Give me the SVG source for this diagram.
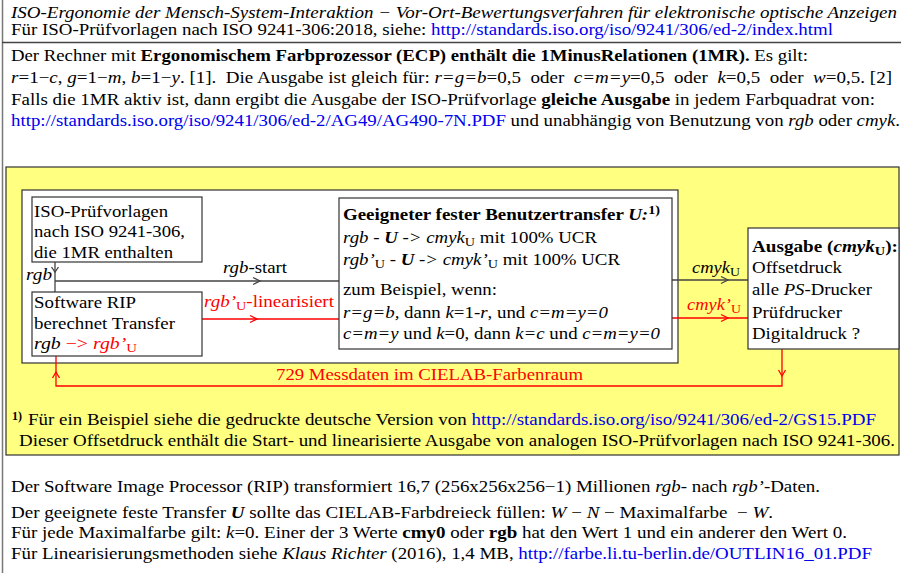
<svg xmlns="http://www.w3.org/2000/svg" width="901" height="573" viewBox="0 0 901 573">
<style>
text{font-family:"Liberation Serif","Times New Roman",serif;font-size:16px;fill:#000}
.i{font-style:italic}
.b{font-weight:bold}
.bl{fill:#0000ee}
.r{fill:#ff0000}
.sub{font-size:12px}
.box{fill:#fff;stroke:#333;stroke-width:1.2}
.ln{fill:none;stroke:#444;stroke-width:1.3}
.lr{fill:none;stroke:#ff0000;stroke-width:1.3}
</style>
<rect x="0" y="0" width="901" height="573" fill="#fff"/>
<g id="frame">
<line x1="2.5" y1="0" x2="2.5" y2="573" stroke="#777" stroke-width="1.5"/>
<line x1="2" y1="42.5" x2="901" y2="42.5" stroke="#444" stroke-width="1.3"/>
</g>
<g id="header">
<text x="11" y="18" class="i" textLength="886" lengthAdjust="spacingAndGlyphs">ISO-Ergonomie der Mensch-System-Interaktion − Vor-Ort-Bewertungsverfahren für elektronische optische Anzeigen</text>
<text x="11" y="35" textLength="822" lengthAdjust="spacingAndGlyphs">Für ISO-Prüfvorlagen nach ISO 9241-306:2018, siehe: <tspan class="bl">http://standards.iso.org/iso/9241/306/ed-2/index.html</tspan></text>
<text x="11" y="61" textLength="797" lengthAdjust="spacingAndGlyphs">Der Rechner mit <tspan class="b">Ergonomischem Farbprozessor (ECP) enthält die 1MinusRelationen (1MR).</tspan> Es gilt:</text>
<text x="11" y="83" xml:space="preserve" textLength="881" lengthAdjust="spacingAndGlyphs"><tspan class="i">r</tspan>=1−<tspan class="i">c</tspan>, <tspan class="i">g</tspan>=1−<tspan class="i">m</tspan>, <tspan class="i">b</tspan>=1−<tspan class="i">y</tspan>. [1].  Die Ausgabe ist gleich für: <tspan class="i">r=g=b</tspan>=0,5  oder  <tspan class="i">c=m=y</tspan>=0,5  oder  <tspan class="i">k</tspan>=0,5  oder  <tspan class="i">w</tspan>=0,5. [2]</text>
<text x="11" y="105" textLength="864" lengthAdjust="spacingAndGlyphs">Falls die 1MR aktiv ist, dann ergibt die Ausgabe der ISO-Prüfvorlage <tspan class="b">gleiche Ausgabe</tspan> in jedem Farbquadrat von:</text>
<text x="11" y="126" textLength="889" lengthAdjust="spacingAndGlyphs"><tspan class="bl">http://standards.iso.org/iso/9241/306/ed-2/AG49/AG490-7N.PDF</tspan> und unabhängig von Benutzung von <tspan class="i">rgb</tspan> oder <tspan class="i">cmyk</tspan>.</text>
</g>
<rect id="panel" x="6" y="167" width="893" height="288" fill="#ffff80" stroke="#333" stroke-width="1.2"/>
<rect id="inner" x="22" y="190" width="656" height="173" class="box"/>
<g id="connectors">
<path class="ln" d="M55,262 V292 M55,281 H339 M672,280 H748"/>
<path class="ln" d="M51.5,267 L55,272 L58.5,267 M253,277.5 L260,281 L253,284.5 M721,276.5 L728,280 L721,283.5"/>
<path class="lr" d="M202,319 H339 M672,318 H748 M782,349 V386 H56 V356"/>
<path class="lr" d="M250,315.5 L257,319 L250,322.5 M721,314.5 L728,318 L721,321.5 M778.5,370 L782,376 L785.5,370 M52.5,378 L56,372 L59.5,378"/>
<text x="26" y="280" class="i" textLength="26" lengthAdjust="spacingAndGlyphs">rgb</text>
<text x="223" y="273" textLength="64" lengthAdjust="spacingAndGlyphs"><tspan class="i">rgb</tspan>-start</text>
<text x="204" y="307" class="r" textLength="130" lengthAdjust="spacingAndGlyphs"><tspan class="i">rgb’</tspan><tspan class="sub" dy="3">U</tspan><tspan dy="-3">-linearisiert</tspan></text>
<text x="692" y="273" textLength="48" lengthAdjust="spacingAndGlyphs"><tspan class="i">cmyk</tspan><tspan class="sub" dy="3">U</tspan></text>
<text x="687" y="310" class="r" textLength="54" lengthAdjust="spacingAndGlyphs"><tspan class="i">cmyk’</tspan><tspan class="sub" dy="3">U</tspan></text>
<text x="276" y="380" class="r" textLength="307" lengthAdjust="spacingAndGlyphs">729 Messdaten im CIELAB-Farbenraum</text>
</g>
<g id="iso">
<rect x="32" y="197" width="170" height="65" class="box"/>
<text x="34" y="217" textLength="134" lengthAdjust="spacingAndGlyphs">ISO-Prüfvorlagen</text>
<text x="34" y="237" textLength="151" lengthAdjust="spacingAndGlyphs">nach ISO 9241-306,</text>
<text x="34" y="258" textLength="139" lengthAdjust="spacingAndGlyphs">die 1MR enthalten</text>
</g>
<g id="rip">
<rect x="32" y="292" width="170" height="64" class="box"/>
<text x="34" y="308" textLength="102" lengthAdjust="spacingAndGlyphs">Software RIP</text>
<text x="34" y="329" textLength="141" lengthAdjust="spacingAndGlyphs">berechnet Transfer</text>
<text x="34" y="349" textLength="103" lengthAdjust="spacingAndGlyphs"><tspan class="i">rgb</tspan> <tspan class="r">−&gt; </tspan><tspan class="r i">rgb’</tspan><tspan class="r sub" dy="3">U</tspan></text>
</g>
<g id="transfer">
<rect x="339" y="198" width="333" height="151" class="box"/>
<text x="343" y="220" class="b" textLength="317" lengthAdjust="spacingAndGlyphs">Geeigneter fester Benutzertransfer <tspan class="i">U:</tspan><tspan class="sub" dy="-6">1)</tspan></text>
<text x="343" y="243" textLength="254" lengthAdjust="spacingAndGlyphs"><tspan class="i">rgb</tspan> - <tspan class="b i">U</tspan><tspan class="i"> -&gt; cmyk</tspan><tspan class="sub" dy="3">U</tspan><tspan dy="-3"> mit 100% UCR</tspan></text>
<text x="343" y="265" textLength="277" lengthAdjust="spacingAndGlyphs"><tspan class="i">rgb’</tspan><tspan class="sub" dy="3">U</tspan><tspan dy="-3"> - </tspan><tspan class="b i">U</tspan><tspan class="i"> -&gt; cmyk’</tspan><tspan class="sub" dy="3">U</tspan><tspan dy="-3"> mit 100% UCR</tspan></text>
<text x="343" y="295" textLength="154" lengthAdjust="spacingAndGlyphs">zum Beispiel, wenn:</text>
<text x="343" y="318" textLength="265" lengthAdjust="spacingAndGlyphs"><tspan class="i">r=g=b,</tspan> dann <tspan class="i">k</tspan>=1-<tspan class="i">r</tspan>, und <tspan class="i">c=m=y=0</tspan></text>
<text x="343" y="339" textLength="317" lengthAdjust="spacingAndGlyphs"><tspan class="i">c=m=y</tspan> und <tspan class="i">k</tspan>=0, dann <tspan class="i">k=c</tspan> und <tspan class="i">c=m=y=0</tspan></text>
</g>
<g id="ausgabe">
<rect x="748" y="228" width="151" height="121" class="box"/>
<text x="752" y="252" class="b" textLength="146" lengthAdjust="spacingAndGlyphs">Ausgabe (<tspan class="i">cmyk</tspan><tspan class="sub" dy="3">U</tspan><tspan dy="-3">):</tspan></text>
<text x="752" y="273" textLength="90" lengthAdjust="spacingAndGlyphs">Offsetdruck</text>
<text x="752" y="295" textLength="120" lengthAdjust="spacingAndGlyphs">alle <tspan class="i">PS</tspan>-Drucker</text>
<text x="752" y="318" textLength="90" lengthAdjust="spacingAndGlyphs">Prüfdrucker</text>
<text x="752" y="339" textLength="108" lengthAdjust="spacingAndGlyphs">Digitaldruck ?</text>
</g>
<g id="footnote">
<text x="12" y="420" class="b sub">1)</text>
<text x="28" y="425" textLength="848" lengthAdjust="spacingAndGlyphs">Für ein Beispiel siehe die gedruckte deutsche Version von <tspan class="bl">http://standards.iso.org/iso/9241/306/ed-2/GS15.PDF</tspan></text>
<text x="19" y="446" textLength="876" lengthAdjust="spacingAndGlyphs">Dieser Offsetdruck enthält die Start- und linearisierte Ausgabe von analogen ISO-Prüfvorlagen nach ISO 9241-306.</text>
</g>
<g id="notes">
<text x="11" y="492" textLength="809" lengthAdjust="spacingAndGlyphs">Der Software Image Processor (RIP) transformiert 16,7 (256x256x256−1) Millionen <tspan class="i">rgb</tspan>- nach <tspan class="i">rgb’</tspan>-Daten.</text>
<text x="11" y="518" xml:space="preserve" textLength="762" lengthAdjust="spacingAndGlyphs">Der geeignete feste Transfer <tspan class="b i">U</tspan> sollte das CIELAB-Farbdreieck füllen: <tspan class="i">W</tspan> − <tspan class="i">N</tspan> − Maximalfarbe  − <tspan class="i">W</tspan>.</text>
<text x="11" y="538" textLength="836" lengthAdjust="spacingAndGlyphs">Für jede Maximalfarbe gilt: <tspan class="i">k</tspan>=0. Einer der 3 Werte <tspan class="b">cmy0</tspan> oder <tspan class="b">rgb</tspan> hat den Wert 1 und ein anderer den Wert 0.</text>
<text x="11" y="559" textLength="861" lengthAdjust="spacingAndGlyphs">Für Linearisierungsmethoden siehe <tspan class="i">Klaus Richter</tspan> (2016), 1,4 MB, <tspan class="bl">http://farbe.li.tu-berlin.de/OUTLIN16_01.PDF</tspan></text>
</g>
</svg>
